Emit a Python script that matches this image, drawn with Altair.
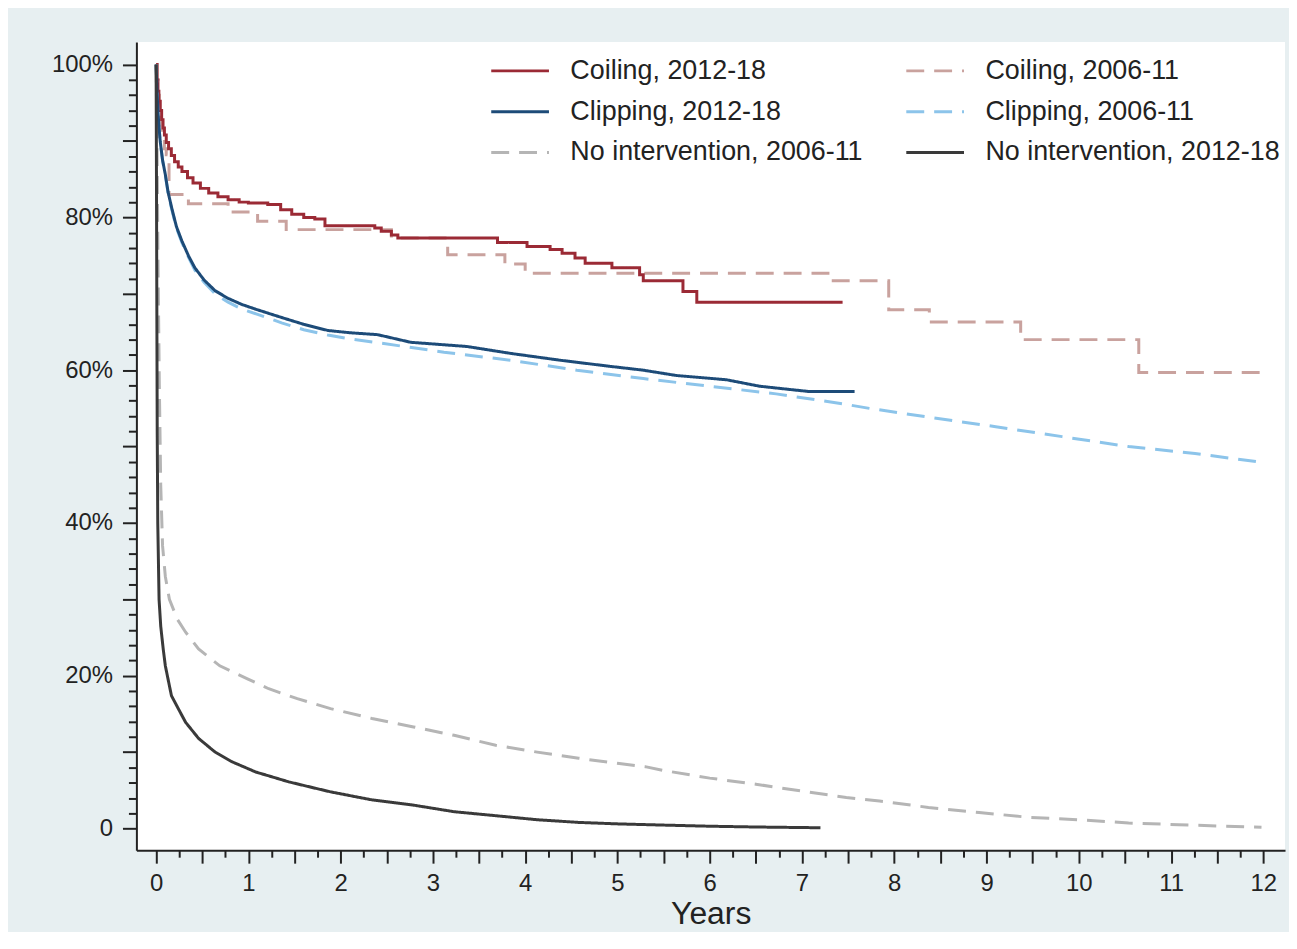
import altair as alt
import pandas as pd

# legend grid is filled column by column (3 rows x 2 columns)
SERIES = ["Coiling, 2012-18", "Clipping, 2012-18", "No intervention, 2006-11",
          "Coiling, 2006-11", "Clipping, 2006-11", "No intervention, 2012-18"]
COLORS = ["#9b2a35", "#1d4b78", "#b5b5b5", "#c9a29e", "#8cc4ea", "#3a3a3a"]
DASHES = [[1, 0], [1, 0], [18, 10], [18, 10], [18, 10], [1, 0]]

# Coiling, 2012-18 (step curve)
coil12_t = [0, 0.01, 0.02, 0.03, 0.045, 0.06, 0.075, 0.09, 0.11, 0.135, 0.165, 0.2, 0.24,
            0.28, 0.34, 0.4, 0.48, 0.57, 0.67, 0.78, 0.9, 1.0, 1.21, 1.35, 1.47,
            1.6, 1.72, 1.83, 2.37, 2.44, 2.55, 2.62, 3.70, 4.02, 4.27, 4.40, 4.54, 4.65,
            4.94, 5.24, 5.28, 5.71, 5.86, 7.44]
coil12_s = [100, 98, 96.5, 95.2, 94.0, 92.8, 91.7, 90.8, 89.8, 89.0, 88.1, 87.3, 86.6,
            86.0, 85.2, 84.5, 83.8, 83.2, 82.7, 82.3, 82.0, 81.9, 81.7, 81.0, 80.4,
            80.0, 79.8, 78.9, 78.6, 78.2, 77.7, 77.3, 76.7, 76.2, 75.8, 75.3, 74.7, 74.0,
            73.4, 72.5, 71.7, 70.3, 68.9, 68.9]

# Coiling, 2006-11 (step curve)
coil06_t = [0, 0.01, 0.02, 0.035, 0.05, 0.07, 0.09, 0.11, 0.13, 0.14, 0.35, 0.78, 1.1, 1.41,
            2.55, 3.16, 3.78, 4.0, 7.32, 7.94, 8.38, 9.37, 10.65, 11.98]
coil06_s = [100, 98, 96, 94, 92, 90.2, 89, 88.2, 87.6, 83.0, 81.8, 80.7, 79.5, 78.4,
            77.3, 75.1, 73.9, 72.7, 71.7, 67.9, 66.3, 64.0, 59.7, 59.7]

# Clipping, 2012-18
clip12_t = [0, 0.01, 0.02, 0.03, 0.045, 0.07, 0.1, 0.13, 0.17, 0.22, 0.28, 0.35, 0.42, 0.52,
            0.64, 0.78, 0.93, 1.1, 1.36, 1.6, 1.86, 2.1, 2.4, 2.76, 3.37,
            3.84, 4.38, 4.92, 5.28, 5.64, 6.18, 6.54, 7.08, 7.57]
clip12_s = [100, 96.5, 94, 92, 89.9, 87.5, 85.6, 83.3, 81.2, 78.8, 76.9, 75.0, 73.4, 71.8,
            70.4, 69.4, 68.6, 67.9, 66.9, 66.0, 65.2, 64.9, 64.65, 63.65, 63.1,
            62.2, 61.3, 60.5, 60.0, 59.3, 58.75, 57.9, 57.2, 57.2]

# Clipping, 2006-11
clip06_t = [0, 0.01, 0.02, 0.03, 0.045, 0.07, 0.1, 0.13, 0.17, 0.22, 0.28, 0.35, 0.42, 0.52,
            0.64, 0.78, 0.93, 1.1, 1.36, 1.6, 1.86, 2.1, 2.4, 3.12, 3.84,
            4.56, 5.28, 6.0, 6.72, 7.44, 7.73, 8.4, 9.1, 9.82, 10.54, 11.26, 11.94]
clip06_s = [100, 96.5, 94, 92, 89.9, 87.4, 85.5, 83.1, 81.0, 78.6, 76.7, 74.8, 73.1, 71.5,
            70.0, 68.9, 68.0, 67.3, 66.2, 65.3, 64.6, 64.1, 63.6, 62.35, 61.3,
            60.0, 58.9, 57.9, 56.9, 55.6, 55.0, 53.8, 52.6, 51.3, 50.0, 49.1, 48.0]

# No intervention, 2006-11
noint06_t = [0, 0.01, 0.02, 0.035, 0.05, 0.07, 0.1, 0.144, 0.23, 0.32, 0.46, 0.69, 0.99, 1.22,
             1.53, 1.89, 2.34, 2.79, 3.23, 3.68, 4.13, 4.58, 5.02, 5.3, 5.5, 6.0, 6.5, 7.0,
             7.48, 7.84, 8.37, 8.92, 9.46, 10.0, 10.54, 11.08, 11.98]
noint06_s = [100, 90, 75, 58, 45, 37, 33, 30, 27.4, 25.7, 23.5, 21.3, 19.6, 18.3,
             17.0, 15.7, 14.4, 13.3, 12.2, 10.9, 10.0, 9.2, 8.5, 8.1, 7.6, 6.6, 5.8, 4.9,
             4.06, 3.6, 2.76, 2.1, 1.46, 1.15, 0.72, 0.5, 0.16]

# No intervention, 2012-18
noint12_t = [0, 0.004, 0.008, 0.012, 0.018, 0.032, 0.05, 0.077, 0.1, 0.166, 0.24, 0.32, 0.46,
             0.64, 0.82, 1.08, 1.44, 1.89, 2.34, 2.79, 3.23, 3.68, 4.13, 4.58, 5.02, 5.5,
             6.0, 6.5, 7.2]
noint12_s = [100, 85, 68, 52, 40, 30, 26.5, 23.5, 21.3, 17.4, 15.7, 13.9, 11.8,
             10.0, 8.75, 7.4, 6.1, 4.8, 3.75, 3.06, 2.2, 1.68, 1.15, 0.8, 0.6, 0.45,
             0.3, 0.2, 0.1]


def frame(name, t, s):
    return pd.DataFrame({"series": name, "t": t, "s": s})


step_df = pd.concat([frame("Coiling, 2006-11", coil06_t, coil06_s),
                     frame("Coiling, 2012-18", coil12_t, coil12_s)], ignore_index=True)
lin_df = pd.concat([frame("Clipping, 2006-11", clip06_t, clip06_s),
                    frame("No intervention, 2006-11", noint06_t, noint06_s),
                    frame("Clipping, 2012-18", clip12_t, clip12_s),
                    frame("No intervention, 2012-18", noint12_t, noint12_s)], ignore_index=True)

FONT = "Liberation Sans"
INK = "#222222"

xs = alt.Scale(domain=[-0.2136, 12.235], nice=False, zero=False)
ys = alt.Scale(domain=[-2.84, 102.96], nice=False, zero=False)

legend = alt.Legend(title=None, orient="none", legendX=355, legendY=15, columns=2,
                    symbolType="stroke", symbolSize=3364, symbolStrokeWidth=3,
                    clipHeight=28, rowPadding=13, columnPadding=42,
                    labelFontSize=27, labelFont=FONT, labelColor=INK, labelOffset=20,
                    padding=0, symbolOffset=0, labelLimit=0)

color = alt.Color("series:N", scale=alt.Scale(domain=SERIES, range=COLORS), legend=legend)
dash = alt.StrokeDash("series:N", scale=alt.Scale(domain=SERIES, range=DASHES), legend=legend)

x_major = alt.Axis(orient="bottom", values=[i * 0.5 for i in range(25)],
                   labelExpr="datum.value % 1 == 0 ? format(datum.value, 'd') : ''",
                   tickSize=13, tickWidth=2, tickColor=INK, domainWidth=2, domainColor=INK,
                   labelFontSize=24, labelFont=FONT, labelColor=INK, labelPadding=8,
                   labelOverlap=False, labelFlush=False, grid=False,
                   title="Years", titleFontSize=32, titleFont=FONT, titleFontWeight="normal",
                   titleColor=INK, titlePadding=4)
y_major = alt.Axis(orient="left", values=[i * 10 for i in range(11)],
                   labelExpr="datum.value == 0 ? '0' : (datum.value % 20 == 0 ? format(datum.value, 'd') + '%' : '')",
                   tickSize=14, tickWidth=2, tickColor=INK, domainWidth=2, domainColor=INK,
                   labelFontSize=24, labelFont=FONT, labelColor=INK, labelPadding=10,
                   labelOverlap=False, labelFlush=False, grid=False, title=None)
x_minor = alt.Axis(orient="bottom", values=[i * 0.5 + 0.25 for i in range(24)],
                   tickSize=7, tickWidth=2, tickColor=INK, labels=False, domain=False,
                   grid=False, title=None)
y_minor = alt.Axis(orient="left", values=[v for v in range(2, 100, 2) if v % 10 != 0],
                   tickSize=8, tickWidth=2, tickColor=INK, labels=False, domain=False,
                   grid=False, title=None)

step_layer = alt.Chart(step_df).mark_line(interpolate="step-after", strokeWidth=3).encode(
    x=alt.X("t:Q", scale=xs, axis=x_major),
    y=alt.Y("s:Q", scale=ys, axis=y_major),
    color=color, strokeDash=dash, detail="series:N",
)
lin_layer = alt.Chart(lin_df).mark_line(strokeWidth=3).encode(
    x=alt.X("t:Q", scale=xs, axis=None),
    y=alt.Y("s:Q", scale=ys, axis=None),
    color=color, strokeDash=dash, detail="series:N",
)
minor_layer = alt.Chart(lin_df).mark_line(strokeOpacity=0).encode(
    x=alt.X("t:Q", scale=xs, axis=x_minor),
    y=alt.Y("s:Q", scale=ys, axis=y_minor),
    detail="series:N",
)

chart = alt.layer(step_layer, lin_layer, minor_layer).resolve_axis(
    x="independent", y="independent"
).properties(
    width=1154, height=812,
    autosize=alt.AutoSizeParams(type="none"),
    padding={"left": 129, "top": 32, "right": 4, "bottom": 80},
    background="#e7eff1",
    view=alt.ViewBackground(fill="white", stroke=None),
).configure_view(stroke=None, fill="white").configure(font=FONT)

chart.save("out.html", embed_options={"renderer": "svg", "actions": False})
